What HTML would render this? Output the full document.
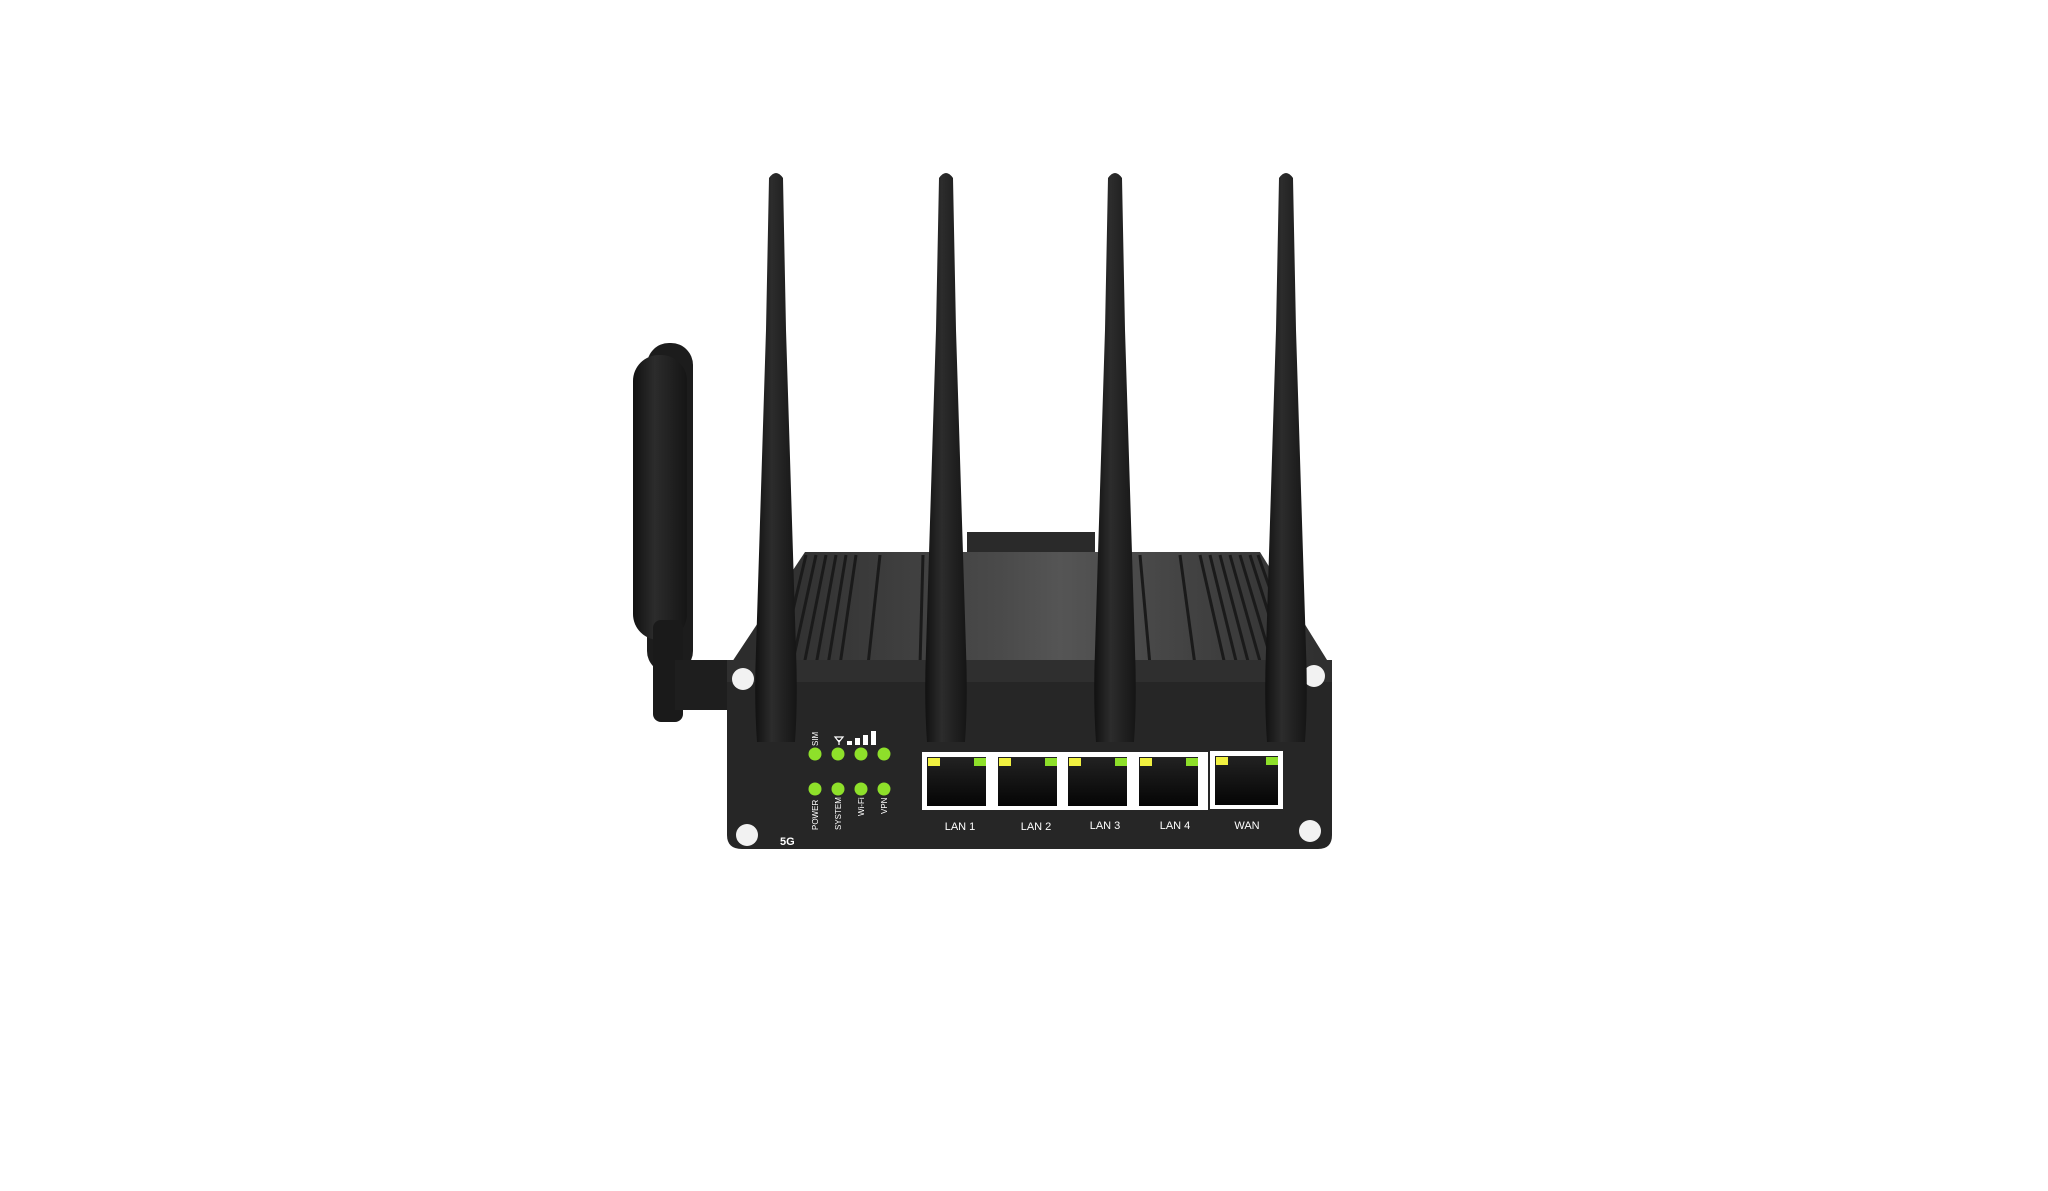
<!DOCTYPE html>
<html><head><meta charset="utf-8"><style>
html,body{margin:0;padding:0;background:#fff;width:2048px;height:1191px;overflow:hidden}
svg{display:block}
text{font-family:"Liberation Sans",sans-serif;fill:#fff}
</style></head><body>
<svg width="2048" height="1191" viewBox="0 0 2048 1191" xmlns="http://www.w3.org/2000/svg">
<defs>
<linearGradient id="top" x1="0" x2="1" y1="0" y2="0">
<stop offset="0" stop-color="#2a2a2a"/><stop offset="0.45" stop-color="#4a4a4a"/><stop offset="0.55" stop-color="#555"/><stop offset="1" stop-color="#2e2e2e"/></linearGradient>
<linearGradient id="ant" x1="0" x2="1"><stop offset="0" stop-color="#111"/><stop offset="0.4" stop-color="#2c2c2c"/><stop offset="1" stop-color="#151515"/></linearGradient>
<linearGradient id="port" x1="0" x2="0" y1="0" y2="1"><stop offset="0" stop-color="#222"/><stop offset="1" stop-color="#050505"/></linearGradient>
</defs>
<!-- left stubby antenna -->
<rect x="647" y="343" width="46" height="330" rx="22" fill="#1c1c1c"/>
<rect x="633" y="355" width="54" height="285" rx="26" fill="url(#ant)"/>
<rect x="653" y="620" width="30" height="102" rx="8" fill="#1a1a1a"/>
<rect x="675" y="660" width="60" height="50" fill="#1e1e1e"/>
<!-- back strip -->
<rect x="967" y="532" width="128" height="22" fill="#2a2a2a"/>
<!-- top surface -->
<polygon points="805,552 1260,552 1332,668 728,668" fill="url(#top)"/>
<g stroke="#1a1a1a" stroke-width="3">
<line x1="806" y1="555" x2="780" y2="665"/><line x1="816" y1="555" x2="792" y2="665"/><line x1="826" y1="555" x2="804" y2="665"/><line x1="836" y1="555" x2="816" y2="665"/><line x1="846" y1="555" x2="828" y2="665"/><line x1="856" y1="555" x2="840" y2="665"/>
<line x1="880" y1="555" x2="868" y2="665"/><line x1="923" y1="555" x2="920" y2="665"/>
<line x1="1140" y1="555" x2="1150" y2="665"/><line x1="1180" y1="555" x2="1195" y2="665"/>
<line x1="1200" y1="555" x2="1225" y2="665"/><line x1="1210" y1="555" x2="1237" y2="665"/><line x1="1220" y1="555" x2="1249" y2="665"/><line x1="1230" y1="555" x2="1261" y2="665"/><line x1="1240" y1="555" x2="1273" y2="665"/><line x1="1250" y1="555" x2="1285" y2="665"/><line x1="1258" y1="555" x2="1297" y2="665"/>
</g>
<!-- front panel -->
<path d="M742,660 L1318,660 Q1332,660 1332,675 L1332,835 Q1332,849 1318,849 L742,849 Q727,849 727,835 L727,675 Q727,660 742,660 Z" fill="#262626"/>
<rect x="727" y="660" width="605" height="22" fill="#2f2f2f"/>
<!-- screws -->
<g fill="#f2f2f2"><circle cx="743" cy="679" r="11"/><circle cx="1314" cy="676" r="11"/><circle cx="747" cy="835" r="11"/><circle cx="1310" cy="831" r="11"/></g>
<!-- antennas -->
<g fill="url(#ant)">
<path d="M769,178 Q776,168 783,178 L786,330 L796,650 Q798,700 795,742 L757,742 Q754,700 756,650 L766,330 Z"/>
<path d="M939,178 Q946,168 953,178 L956,330 L966,650 Q968,700 965,742 L927,742 Q924,700 926,650 L936,330 Z"/>
<path d="M1108,178 Q1115,168 1122,178 L1125,330 L1135,650 Q1137,700 1134,742 L1096,742 Q1093,700 1095,650 L1105,330 Z"/>
<path d="M1279,178 Q1286,168 1293,178 L1296,330 L1306,650 Q1308,700 1305,742 L1267,742 Q1264,700 1266,650 L1276,330 Z"/>
</g>
<!-- LEDs -->
<g fill="#8ee02a"><circle cx="815" cy="754" r="6.5"/><circle cx="838" cy="754" r="6.5"/><circle cx="861" cy="754" r="6.5"/><circle cx="884" cy="754" r="6.5"/>
<circle cx="815" cy="789" r="6.5"/><circle cx="838" cy="789" r="6.5"/><circle cx="861" cy="789" r="6.5"/><circle cx="884" cy="789" r="6.5"/></g>
<!-- signal -->
<g fill="#fff"><rect x="847" y="741" width="5" height="4"/><rect x="855" y="738" width="5" height="7"/><rect x="863" y="735" width="5" height="10"/><rect x="871" y="731" width="5" height="14"/></g>
<path d="M835,737 L843,737 L839,742 Z M839,740 L839,745" stroke="#fff" stroke-width="1.2" fill="none"/>
<g font-size="8">
<text transform="translate(818,746) rotate(-90)">SIM</text>
<text transform="translate(818,830) rotate(-90)">POWER</text>
<text transform="translate(841,830) rotate(-90)">SYSTEM</text>
<text transform="translate(864,816) rotate(-90)">Wi-Fi</text>
<text transform="translate(887,814) rotate(-90)">VPN</text>
</g>
<text x="780" y="845" font-size="11" font-weight="bold">5G</text>
<!-- ports -->
<rect x="922" y="752" width="286" height="58" fill="#fff"/>
<rect x="1210" y="751" width="73" height="58" fill="#fff"/>
<g fill="url(#port)">
<rect x="927" y="757" width="59" height="49"/><rect x="998" y="757" width="59" height="49"/><rect x="1068" y="757" width="59" height="49"/><rect x="1139" y="757" width="59" height="49"/><rect x="1215" y="756" width="63" height="49"/>
</g>
<g fill="#f0f040"><rect x="928" y="758" width="12" height="8"/><rect x="999" y="758" width="12" height="8"/><rect x="1069" y="758" width="12" height="8"/><rect x="1140" y="758" width="12" height="8"/><rect x="1216" y="757" width="12" height="8"/></g>
<g fill="#8ee02a"><rect x="974" y="758" width="12" height="8"/><rect x="1045" y="758" width="12" height="8"/><rect x="1115" y="758" width="12" height="8"/><rect x="1186" y="758" width="12" height="8"/><rect x="1266" y="757" width="12" height="8"/></g>
<g font-size="11" text-anchor="middle">
<text x="960" y="830">LAN 1</text><text x="1036" y="830">LAN 2</text><text x="1105" y="829">LAN 3</text><text x="1175" y="829">LAN 4</text><text x="1247" y="829">WAN</text>
</g>
</svg>
</body></html>
